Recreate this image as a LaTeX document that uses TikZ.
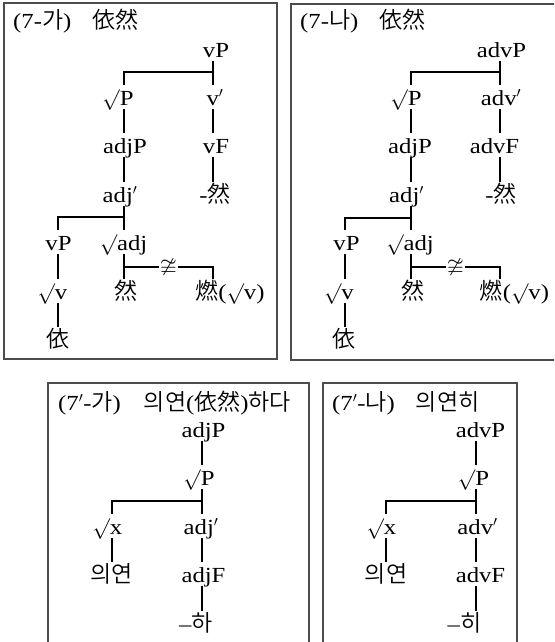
\documentclass[tikz,border=0pt]{standalone}
\usepackage{amssymb}
\usepackage{fontspec}
\setmainfont{Liberation Serif}[FakeStretch=1.15]
\newfontfamily\kr{Noto Sans CJK KR}[UprightFont=* DemiLight]
\newcommand{\hg}[1]{{\kr\fontsize{23}{27}\selectfont #1}}
\usetikzlibrary{calc}
\tikzset{
  panel/.style={draw=black!70, line width=1.3pt},
  cat/.style={
    anchor=base, inner xsep=0pt, inner ysep=2pt,
    text height=18pt, text depth=2pt,
    font=\fontsize{21.5}{26}\selectfont
  },
  han/.style={cat, font=\kr\fontsize{23}{27}\selectfont},
  heading/.style={anchor=base west, inner sep=0pt, font=\fontsize{21.5}{26}\selectfont},
  branch/.style={line width=2.2pt, draw=black},
  neq/.style={fill=white, inner xsep=1pt, inner ysep=0pt, font=\fontsize{21.5}{26}\selectfont}
}
\begin{document}
\begin{tikzpicture}[x=1pt, y=-1pt]
  \clip (0,0) rectangle (554,642);
  \draw[panel] (4,3) rectangle (277,359);
  \draw[panel] (291,4) rectangle (570,360);
  \draw[panel] (48,383) rectangle (309,660);
  \draw[panel] (323,383) rectangle (517,660);

  \node[heading] (a-title) at (13,29) {(7-\hg{가})\hspace{21pt}\hg{依然}};
  \node[cat] (a-top) at (216,57) {vP};
  \node[cat] (a-sp) at (118,105) {$\surd$P};
  \node[cat] (a-v1) at (215,105) {v$'$};
  \node[cat] (a-adjP) at (125,153) {adjP};
  \node[cat] (a-vF) at (216,153) {vF};
  \node[cat] (a-adj1) at (120,202) {adj$'$};
  \node[cat] (a-suf) at (215,202) {-\hg{然}};
  \node[cat] (a-vP) at (58.5,250) {vP};
  \node[cat] (a-sadj) at (123.5,250) {$\surd$adj};
  \node[cat] (a-sv) at (52.5,299) {$\surd$v};
  \node[han] (a-ran) at (126,299) {然};
  \node[cat] (a-yan) at (230,299) {\hg{燃}($\surd$v)};
  \node[han] (a-yi) at (57.5,347) {依};
  \coordinate (a-j1) at (213,72);
  \coordinate (a-j1l) at (124,72);
  \coordinate (a-j2) at (124,217);
  \coordinate (a-j2l) at (58,217);
  \coordinate (a-j3) at (124,267);
  \coordinate (a-j3r) at (213,267);

  \draw[branch] (a-top.south -| a-j1) -- (a-v1.north -| a-j1);
  \draw[branch] (a-j1) -- (a-j1l) -- (a-sp.north -| a-j1l);
  \draw[branch] (a-sp.south -| a-j1l) -- (a-adjP.north -| a-j1l);
  \draw[branch] (a-v1.south -| a-j1) -- (a-vF.north -| a-j1);
  \draw[branch] (a-adjP.south -| a-j1l) -- (a-adj1.north -| a-j1l);
  \draw[branch] (a-vF.south -| a-j1) -- (a-suf.north -| a-j1);
  \draw[branch] (a-adj1.south -| a-j2) -- (a-sadj.north -| a-j2);
  \draw[branch] (a-j2) -- (a-j2l) -- (a-vP.north -| a-j2l);
  \draw[branch] (a-vP.south -| a-j2l) -- (a-sv.north -| a-j2l);
  \draw[branch] (a-sv.south -| a-j2l) -- (a-yi.north -| a-j2l);
  \draw[branch] (a-sadj.south -| a-j3) -- (a-ran.north -| a-j3);
  \draw[branch] (a-j3) -- node[neq]{$\ncong$} (a-j3r) -- (a-yan.north -| a-j3r);

  \node[heading] (b-title) at (300,29) {(7-\hg{나})\hspace{21pt}\hg{依然}};
  \node[cat] (b-top) at (501.5,57) {advP};
  \node[cat] (b-sp) at (406,105) {$\surd$P};
  \node[cat] (b-v1) at (501,105) {adv$'$};
  \node[cat] (b-adjP) at (410,153) {adjP};
  \node[cat] (b-vF) at (494.5,153) {advF};
  \node[cat] (b-adj1) at (406.5,202) {adj$'$};
  \node[cat] (b-suf) at (501,202) {-\hg{然}};
  \node[cat] (b-vP) at (346.5,250) {vP};
  \node[cat] (b-sadj) at (410,250) {$\surd$adj};
  \node[cat] (b-sv) at (339,299) {$\surd$v};
  \node[han] (b-ran) at (413,299) {然};
  \node[cat] (b-yan) at (514.5,299) {\hg{燃}($\surd$v)};
  \node[han] (b-yi) at (344,347) {依};
  \coordinate (b-j1) at (500,72);
  \coordinate (b-j1l) at (411,72);
  \coordinate (b-j2) at (411,218);
  \coordinate (b-j2l) at (345,218);
  \coordinate (b-j3) at (411,267);
  \coordinate (b-j3r) at (500,267);

  \draw[branch] (b-top.south -| b-j1) -- (b-v1.north -| b-j1);
  \draw[branch] (b-j1) -- (b-j1l) -- (b-sp.north -| b-j1l);
  \draw[branch] (b-sp.south -| b-j1l) -- (b-adjP.north -| b-j1l);
  \draw[branch] (b-v1.south -| b-j1) -- (b-vF.north -| b-j1);
  \draw[branch] (b-adjP.south -| b-j1l) -- (b-adj1.north -| b-j1l);
  \draw[branch] (b-vF.south -| b-j1) -- (b-suf.north -| b-j1);
  \draw[branch] (b-adj1.south -| b-j2) -- (b-sadj.north -| b-j2);
  \draw[branch] (b-j2) -- (b-j2l) -- (b-vP.north -| b-j2l);
  \draw[branch] (b-vP.south -| b-j2l) -- (b-sv.north -| b-j2l);
  \draw[branch] (b-sv.south -| b-j2l) -- (b-yi.north -| b-j2l);
  \draw[branch] (b-sadj.south -| b-j3) -- (b-ran.north -| b-j3);
  \draw[branch] (b-j3) -- node[neq]{$\ncong$} (b-j3r) -- (b-yan.north -| b-j3r);

  \node[heading] (c-title) at (58,410) {(7$'$-\hg{가})\hspace{23pt}\hg{의연}(\hg{依然})\hg{하다}};
  \node[cat] (c-top) at (203.5,437) {adjP};
  \node[cat] (c-sp) at (199,485) {$\surd$P};
  \node[cat] (c-sx) at (107.5,534) {$\surd$x};
  \node[cat] (c-adj1) at (201,534) {adj$'$};
  \node[han] (c-uy) at (111.5,582) {의연};
  \node[cat] (c-adjF) at (203.5,582) {adjF};
  \node[cat] (c-suf) at (196,631) {--\hg{하}};
  \coordinate (c-j1) at (202,501);
  \coordinate (c-j1l) at (112,501);

  \draw[branch] (c-top.south -| c-j1) -- (c-sp.north -| c-j1);
  \draw[branch] (c-sp.south -| c-j1) -- (c-adj1.north -| c-j1);
  \draw[branch] (c-j1) -- (c-j1l) -- (c-sx.north -| c-j1l);
  \draw[branch] (c-sx.south -| c-j1l) -- (c-uy.north -| c-j1l);
  \draw[branch] (c-adj1.south -| c-j1) -- (c-adjF.north -| c-j1);
  \draw[branch] (c-adjF.south -| c-j1) -- (c-suf.north -| c-j1);

  \node[heading] (d-title) at (332,410) {(7$'$-\hg{나})\hspace{21pt}\hg{의연히}};
  \node[cat] (d-top) at (480.5,437) {advP};
  \node[cat] (d-sp) at (473.5,485) {$\surd$P};
  \node[cat] (d-sx) at (381.5,534) {$\surd$x};
  \node[cat] (d-adv1) at (477.5,534) {adv$'$};
  \node[han] (d-uy) at (386,582) {의연};
  \node[cat] (d-advF) at (480.5,582) {advF};
  \node[cat] (d-suf) at (464.5,631) {--\hg{히}};
  \coordinate (d-j1) at (476,501);
  \coordinate (d-j1l) at (386,501);

  \draw[branch] (d-top.south -| d-j1) -- (d-sp.north -| d-j1);
  \draw[branch] (d-sp.south -| d-j1) -- (d-adv1.north -| d-j1);
  \draw[branch] (d-j1) -- (d-j1l) -- (d-sx.north -| d-j1l);
  \draw[branch] (d-sx.south -| d-j1l) -- (d-uy.north -| d-j1l);
  \draw[branch] (d-adv1.south -| d-j1) -- (d-advF.north -| d-j1);
  \draw[branch] (d-advF.south -| d-j1) -- (d-suf.north -| d-j1);
\end{tikzpicture}
\end{document}
